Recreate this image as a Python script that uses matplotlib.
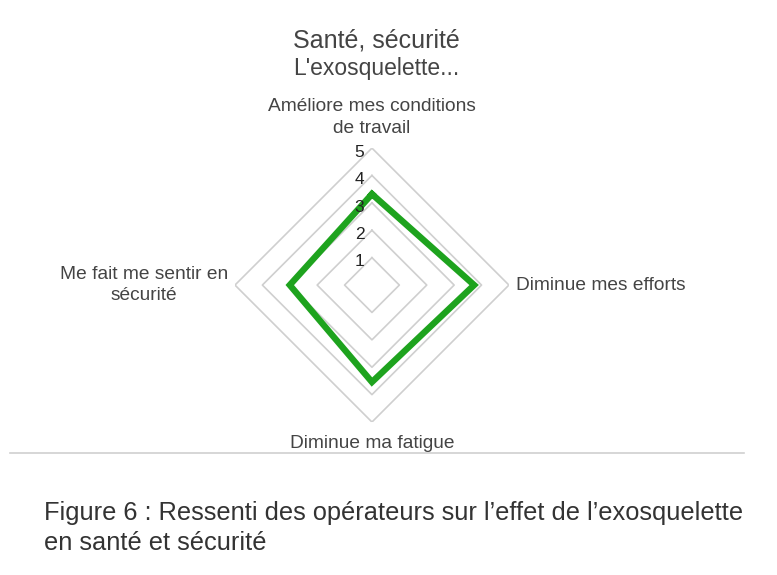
import numpy as np
import matplotlib.pyplot as plt

plt.rcParams['font.family'] = ['Liberation Sans', 'DejaVu Sans']

categories = ['Améliore mes conditions\nde travail', 'Diminue mes efforts',
              'Diminue ma fatigue', 'Me fait me sentir en\nsécurité']
scores = [3.32, 3.73, 3.54, 3.0]
levels = [1, 2, 3, 4, 5]
title = 'Santé, sécurité'
subtitle = "L'exosquelette..."
caption = 'Figure 6 : Ressenti des opérateurs sur l’effet de l’exosquelette\nen santé et sécurité'

GREEN = '#1ea31e'
GRID = '#cfcfcf'
TEXT = '#444444'

fig = plt.figure(figsize=(7.77, 5.75), dpi=100)
ax = fig.add_axes([0.3024, 0.266, 0.3526, 0.4765], projection='polar')
ax.set_theta_offset(np.pi / 2)
ax.set_theta_direction(-1)
ax.set_ylim(0, 5)
ax.grid(False)
ax.spines['polar'].set_visible(False)
ax.set_xticks([])
ax.set_yticks([])
ax.patch.set_alpha(0)

angles = np.linspace(0, 2 * np.pi, len(categories), endpoint=False)
closed = np.append(angles, angles[0])

# diamond rings + level numbers along the top axis
for lv in levels:
    ax.plot(closed, [lv] * len(closed), color=GRID, lw=1.2, zorder=1)
    ax.annotate(str(lv), xy=(0, lv), xytext=(-9, -3), textcoords='offset points',
                ha='center', va='center', fontsize=12.5, color='#222222', zorder=4)

ax.plot(closed, scores + [scores[0]], color=GREEN, lw=4.6, zorder=3,
        solid_joinstyle='miter')

offsets = [(0, 8), (5, 0), (0, -9), (-5, 0)]
aligns = [('center', 'bottom'), ('left', 'center'), ('center', 'top'), ('right', 'center')]
for ang, lab, off, (ha, va) in zip(angles, categories, offsets, aligns):
    ax.annotate(lab, xy=(ang, 5), xytext=off, textcoords='offset points',
                ha=ha, va=va, fontsize=13.8, color=TEXT, multialignment='center',
                linespacing=1.35)

fig.text(0.484, 0.930, title, ha='center', va='center', fontsize=18, color=TEXT)
fig.text(0.484, 0.881, subtitle, ha='center', va='center', fontsize=16.5, color=TEXT)

fig.add_artist(plt.Line2D([0.013, 0.958], [0.212, 0.212], color='#d0d0d0', lw=1.2))
fig.text(0.057, 0.035, caption, ha='left', va='bottom', fontsize=18.3,
         color='#333333', linespacing=1.3)

fig.savefig('out.png', dpi=100, facecolor='white')
